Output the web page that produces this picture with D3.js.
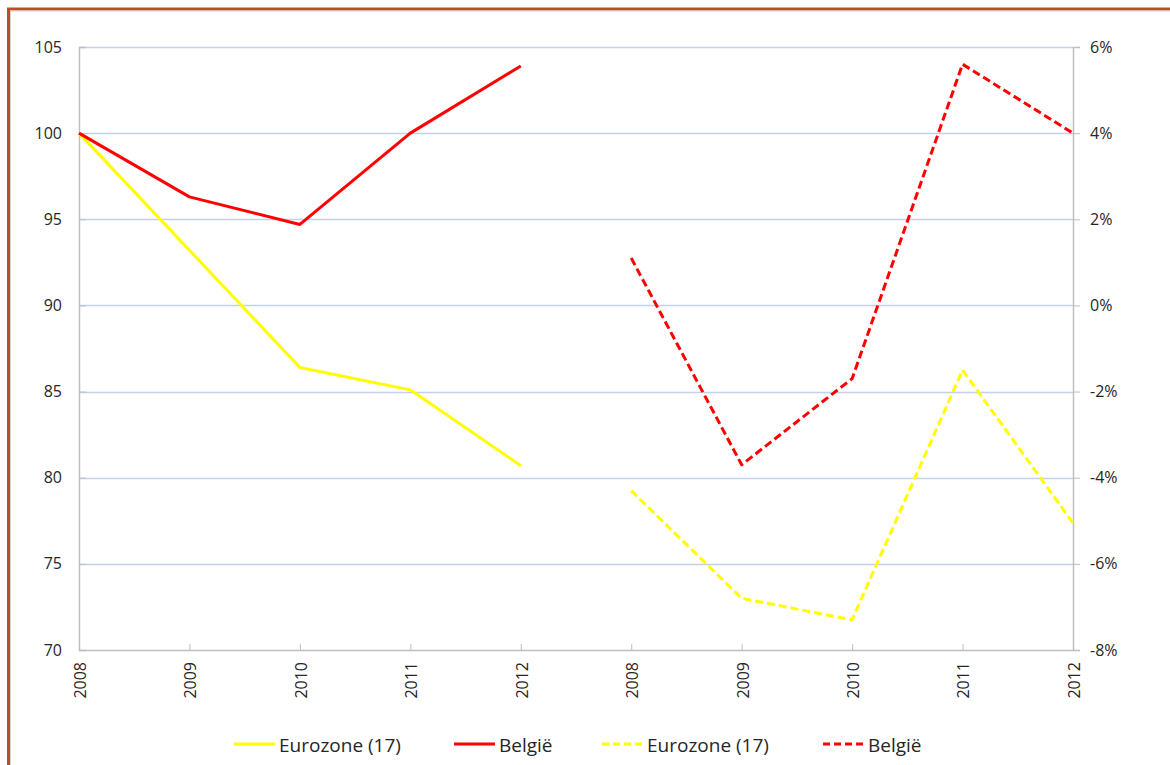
<!DOCTYPE html>
<html>
<head>
<meta charset="utf-8">
<script src="https://cdn.jsdelivr.net/npm/d3@7"></script>
<style>
  html, body { margin: 0; padding: 0; background: #fff; }
  svg { display: block; }
  text { font-family: "Open Sans", "Noto Sans", sans-serif; fill: #262626; }
</style>
</head>
<body>
<svg id="chart" width="1170" height="765"></svg>
<script>
// ---- data ----
const categories = ["2008","2009","2010","2011","2012","2008","2009","2010","2011","2012"];
const leftTicks = [70, 75, 80, 85, 90, 95, 100, 105];
const rightTicks = [-8, -6, -4, -2, 0, 2, 4, 6];
const eurozoneIndex = [100, 93.2, 86.4, 85.1, 80.7];      // left axis, categories 0-4
const belgieIndex = [100, 96.3, 94.7, 100.0, 103.9];      // left axis, categories 0-4
const eurozoneGrowth = [-4.3, -6.8, -7.3, -1.5, -5.05];   // right axis, categories 5-9 (%)
const belgieGrowth = [1.1, -3.7, -1.7, 5.6, 4.0];         // right axis, categories 5-9 (%)
const legendLabels = ["Eurozone (17)", "België", "Eurozone (17)", "België"];

// ---- layout ----
const svg = d3.select("#chart");
const L = 79, R = 1073, T = 47, B = 650;
const FONT = '"Open Sans", "Noto Sans", sans-serif';

const x = d3.scalePoint().domain(d3.range(categories.length)).range([L, R]);
const yL = d3.scaleLinear().domain([70, 105]).range([B, T]);
const yR = d3.scaleLinear().domain([-8, 6]).range([B, T]);

// frame
svg.append("rect").attr("x", 8.5).attr("y", 9).attr("width", 1200).attr("height", 800)
  .attr("fill", "none").attr("stroke", "#bd4b2c").attr("stroke-width", 3);
svg.append("rect").attr("x", 10.5).attr("y", 11).attr("width", 1200).attr("height", 800)
  .attr("fill", "none").attr("stroke", "#d0d0d0").attr("stroke-width", 1);

// gridlines
svg.append("g").selectAll("line").data(leftTicks.filter(d => d !== 70)).join("line")
  .attr("x1", L).attr("x2", R)
  .attr("y1", d => Math.round(yL(d)) + 0.5).attr("y2", d => Math.round(yL(d)) + 0.5)
  .attr("stroke", "#c3d2ea").attr("stroke-width", 1.5);

// left axis
const axL = svg.append("g").attr("transform", `translate(${L},0)`)
  .call(d3.axisLeft(yL).tickValues(leftTicks).tickSize(-7).tickPadding(17));
axL.select(".domain").attr("stroke", "#bfbfbf").attr("stroke-width", 1.5);
axL.selectAll(".tick line").attr("stroke", "#bfbfbf");
axL.selectAll(".tick text").attr("font-size", 16).attr("fill", "#262626")
  .style("font-family", FONT);

// right axis
const axR = svg.append("g").attr("transform", `translate(${R},0)`)
  .call(d3.axisRight(yR).tickValues(rightTicks).tickSize(7).tickPadding(10)
    .tickFormat(d => d + "%"));
axR.select(".domain").attr("stroke", "#bfbfbf").attr("stroke-width", 1.5);
axR.selectAll(".tick line").attr("stroke", "#bfbfbf");
axR.selectAll(".tick text").attr("font-size", 16).attr("fill", "#262626")
  .style("font-family", FONT);

// bottom axis
const axB = svg.append("g").attr("transform", `translate(0,${B})`)
  .call(d3.axisBottom(x).tickSize(-6).tickSizeOuter(0).tickFormat(i => categories[i]));
axB.select(".domain").attr("stroke", "#bfbfbf").attr("stroke-width", 1.5);
axB.selectAll(".tick line").attr("stroke", "#bfbfbf");
axB.selectAll(".tick text")
  .attr("font-size", 16).attr("fill", "#262626")
  .style("font-family", FONT)
  .attr("text-anchor", "end")
  .attr("transform", "rotate(-90)")
  .attr("x", -12).attr("y", 0).attr("dy", "0.4em");

// lines
const lineL = d3.line().x(d => x(d.i)).y(d => yL(d.v));
const lineR = d3.line().x(d => x(d.i)).y(d => yR(d.v));
const series = [
  { vals: eurozoneIndex.map((v, i) => ({ i, v })), gen: lineL, color: "#ffff00", dash: null },
  { vals: belgieIndex.map((v, i) => ({ i, v })), gen: lineL, color: "#ff0000", dash: null },
  { vals: eurozoneGrowth.map((v, i) => ({ i: i + 5, v })), gen: lineR, color: "#ffff00", dash: "8,4" },
  { vals: belgieGrowth.map((v, i) => ({ i: i + 5, v })), gen: lineR, color: "#ff0000", dash: "8,4" }
];
svg.append("g").selectAll("path").data(series).join("path")
  .attr("d", s => s.gen(s.vals))
  .attr("fill", "none")
  .attr("stroke", s => s.color)
  .attr("stroke-width", 3)
  .attr("stroke-linejoin", "round")
  .attr("stroke-dasharray", s => s.dash);

// legend
const legendX = [234, 454, 602, 823];
const lg = svg.append("g").selectAll("g").data(series).join("g")
  .attr("transform", (d, i) => `translate(${legendX[i]},744)`);
lg.append("line").attr("x1", 0).attr("x2", 41).attr("y1", 0).attr("y2", 0)
  .attr("stroke", d => d.color).attr("stroke-width", 3)
  .attr("stroke-dasharray", d => d.dash ? "7,4" : null);
lg.append("text").attr("x", 45).attr("y", 1).attr("dy", "0.35em")
  .attr("font-size", 19)
  .style("font-family", FONT)
  .text((d, i) => legendLabels[i]);
</script>
</body>
</html>
